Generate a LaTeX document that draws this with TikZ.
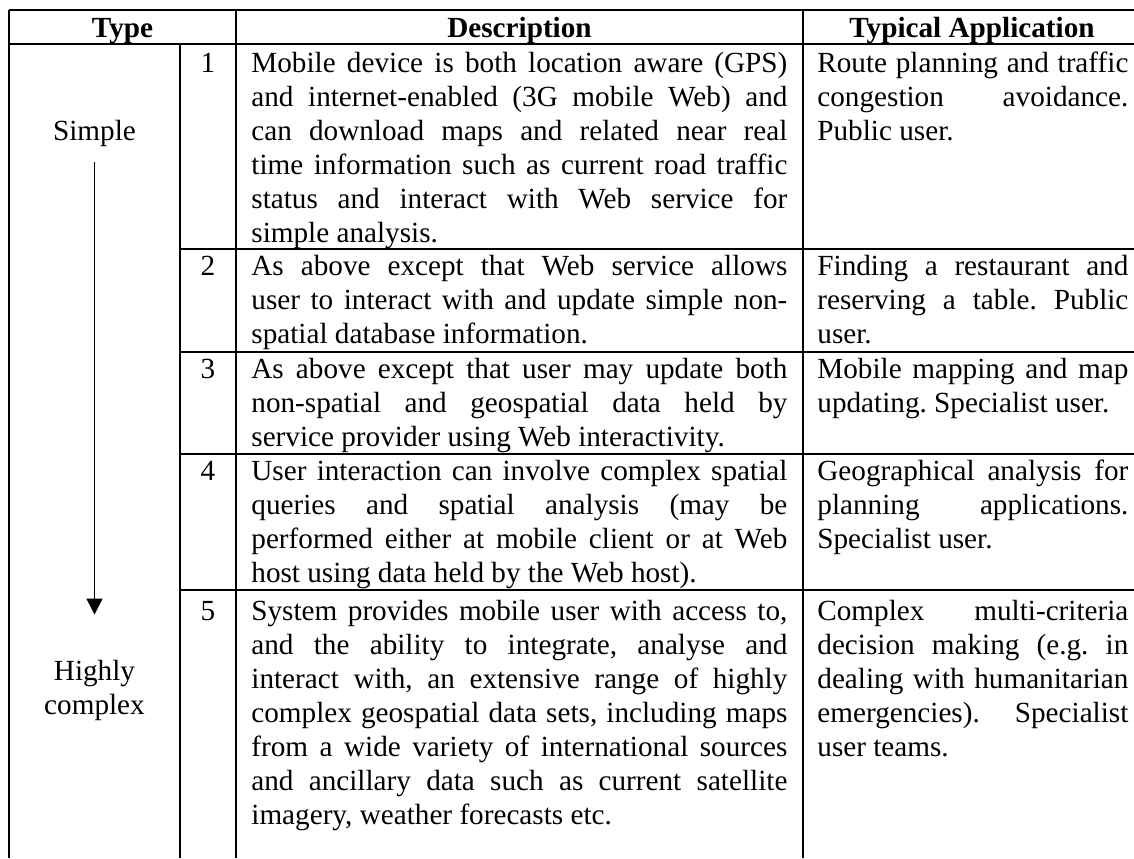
\documentclass[tikz,border=0pt]{standalone}
\usepackage{fontspec}
\setmainfont{Liberation Serif}
\usetikzlibrary{arrows.meta}

\newcommand{\cellsize}{\fontsize{14.6}{17}\selectfont}

\tikzset{
  rule/.style={line width=0.65pt},
  head/.style={anchor=base,inner sep=0pt,font=\cellsize\bfseries},
  num/.style={anchor=base,inner sep=0pt},
  cell/.style={anchor=base west,inner sep=0pt,align=justify},
  desc/.style={cell,text width=268pt},
  appl/.style={cell,text width=155.5pt},
  level/.style={anchor=base,inner sep=0pt,text width=60pt,align=center},
  trend/.style={-{Triangle[width=8pt,length=8pt]},line width=0.65pt}
}

\begin{document}
\frenchspacing
\begin{tikzpicture}[x=0.5pt,y=-0.5pt,font=\cellsize]
\useasboundingbox (0,0) rectangle (1134,858);

% table rules (open at the right and at the bottom)
\draw[rule] (9,10) -- (1134,10);
\draw[rule] (9,44) -- (1134,44);
\foreach \y in {249,352,454,590}
  \draw[rule] (180,\y) -- (1134,\y);
\draw[rule] (9,10) -- (9,858);
\draw[rule] (180,44) -- (180,858);
\draw[rule] (236,10) -- (236,858);
\draw[rule] (803,10) -- (803,858);

% header
\node[head] (htype) at (122.5,37) {Type};
\node[head] (hdesc) at (519.5,37) {Description};
\node[head] (happ) at (972,37) {Typical Application};

% complexity scale
\node[level] (simple) at (94.5,140) {Simple};
\node[level] (complex) at (94.5,680) {Highly\\complex};
\draw[trend,shorten <=7.8pt,shorten >=22.4pt] (simple) -- (complex);

% type 1
\node[num] (n1) at (208,72) {1};
\node[desc] (d1) at (251,72) {Mobile device is both location aware (GPS)\linebreak
  and internet-enabled (3G mobile Web) and\linebreak
  can download maps and related near real\linebreak
  time information such as current road traffic\linebreak
  status and interact with Web service for\linebreak
  simple analysis.};
\node[appl] (a1) at (817,72) {Route planning and traffic\linebreak
  congestion avoidance.\linebreak
  Public user.};

% type 2
\node[num] (n2) at (208,275) {2};
\node[desc] (d2) at (251,275) {As above except that Web service allows\linebreak
  user to interact with and update simple non-\linebreak
  spatial database information.};
\node[appl] (a2) at (817,275) {Finding a restaurant and\linebreak
  reserving a table. Public\linebreak
  user.};

% type 3
\node[num] (n3) at (208,378) {3};
\node[desc] (d3) at (251,378) {As above except that user may update both\linebreak
  non-spatial and geospatial data held by\linebreak
  service provider using Web interactivity.};
\node[appl] (a3) at (817,378) {Mobile mapping and map\linebreak
  updating. Specialist user.};

% type 4
\node[num] (n4) at (208,480) {4};
\node[desc] (d4) at (251,480) {User interaction can involve complex spatial\linebreak
  queries and spatial analysis (may be\linebreak
  performed either at mobile client or at Web\linebreak
  host using data held by the Web host).};
\node[appl] (a4) at (817,480) {Geographical analysis for\linebreak
  planning applications.\linebreak
  Specialist user.};

% type 5
\node[num] (n5) at (208,620) {5};
\node[desc] (d5) at (251,620) {System provides mobile user with access to,\linebreak
  and the ability to integrate, analyse and\linebreak
  interact with, an extensive range of highly\linebreak
  complex geospatial data sets, including maps\linebreak
  from a wide variety of international sources\linebreak
  and ancillary data such as current satellite\linebreak
  imagery, weather forecasts etc.};
\node[appl] (a5) at (817,620) {Complex multi-criteria\linebreak
  decision making (e.g. in\linebreak
  dealing with humanitarian\linebreak
  emergencies). Specialist\linebreak
  user teams.};
\end{tikzpicture}
\end{document}
